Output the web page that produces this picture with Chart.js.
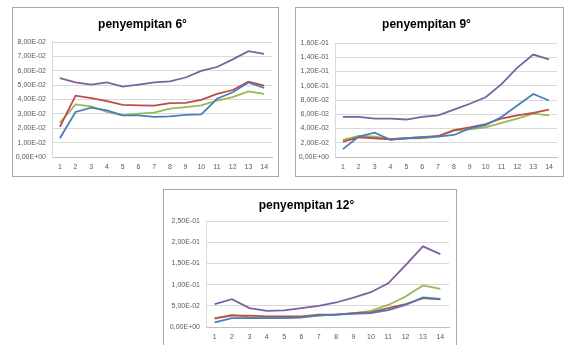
<!DOCTYPE html>
<html>
<head>
<meta charset="utf-8">
<script src="https://cdn.jsdelivr.net/npm/chart.js@4.4.1/dist/chart.umd.min.js"></script>
<style>
  html, body { margin:0; padding:0; background:#ffffff; width:568px; height:345px; overflow:hidden; }
  .box { position:absolute; border:1px solid #a8a8a8; box-sizing:border-box; background:#fff; }
  canvas { display:block; }
</style>
</head>
<body>
<div id="b1" class="box"><canvas id="c1"></canvas></div>
<div id="b2" class="box"><canvas id="c2"></canvas></div>
<div id="b3" class="box"><canvas id="c3"></canvas></div>
<script>
// ---------- DATA ----------
const categories = ["1","2","3","4","5","6","7","8","9","10","11","12","13","14"];

const titles = ["penyempitan 6°", "penyempitan 9°", "penyempitan 12°"];

// y axis ranges (tick labels generated from these)
const yMax  = [0.08, 0.16, 0.25];
const yStep = [0.01, 0.02, 0.05];

// penyempitan 6°
const blue6   = [0.0130,0.0313,0.0343,0.0325,0.0290,0.0290,0.0279,0.0283,0.0293,0.0297,0.0405,0.0450,0.0519,0.0480];
const red6    = [0.0210,0.0427,0.0410,0.0389,0.0363,0.0359,0.0357,0.0375,0.0377,0.0398,0.0439,0.0466,0.0523,0.0496];
const green6  = [0.0238,0.0366,0.0352,0.0313,0.0290,0.0302,0.0309,0.0336,0.0347,0.0359,0.0393,0.0416,0.0457,0.0439];
const purple6 = [0.0549,0.0519,0.0503,0.0519,0.0489,0.0503,0.0519,0.0526,0.0553,0.0599,0.0626,0.0679,0.0736,0.0718];

// penyempitan 9°
const blue9   = [0.0110,0.0286,0.0341,0.0240,0.0263,0.0277,0.0286,0.0309,0.0401,0.0447,0.0562,0.0724,0.0885,0.0793];
const red9    = [0.0217,0.0277,0.0263,0.0249,0.0263,0.0277,0.0295,0.0378,0.0415,0.0461,0.0540,0.0585,0.0618,0.0664];
const green9  = [0.0240,0.0295,0.0286,0.0249,0.0263,0.0263,0.0286,0.0369,0.0387,0.0415,0.0479,0.0540,0.0609,0.0585];
const purple9 = [0.0562,0.0562,0.0540,0.0540,0.0526,0.0562,0.0585,0.0664,0.0747,0.0839,0.1023,0.1254,0.1438,0.1369];

// penyempitan 12°
const blue12   = [0.0110,0.0210,0.0210,0.0210,0.0210,0.0227,0.0273,0.0290,0.0310,0.0328,0.0400,0.0520,0.0700,0.0660];
const red12    = [0.0210,0.0266,0.0266,0.0250,0.0250,0.0250,0.0290,0.0290,0.0328,0.0344,0.0445,0.0540,0.0680,0.0650];
const green12  = [0.0190,0.0290,0.0227,0.0210,0.0210,0.0227,0.0266,0.0290,0.0328,0.0380,0.0520,0.0720,0.0980,0.0900];
const purple12 = [0.0540,0.0656,0.0445,0.0380,0.0390,0.0445,0.0500,0.0578,0.0695,0.0820,0.1030,0.1460,0.1900,0.1720];

const seriesSets = [
  [blue6, red6, green6, purple6],
  [blue9, red9, green9, purple9],
  [blue12, red12, green12, purple12]
];

// ---------- LAYOUT / STYLE ----------
const colors = ["#4A7EBB", "#BE4B48", "#98B954", "#7D60A0"];
const layouts = [
  { box:{l:12,  t:7,   w:267, h:170}, plot:{l:52,  t:42,  r:272, b:157}, titleY:25 },
  { box:{l:295, t:7,   w:269, h:170}, plot:{l:335, t:43,  r:557, b:157}, titleY:25 },
  { box:{l:163, t:189, w:294, h:165}, plot:{l:206, t:221, r:449, b:327}, titleY:206 }
];

function fmtE(v) {
  if (Math.abs(v) < 1e-12) return "0,00E+00";
  let s = v.toExponential(2); // e.g. 8.00e-2
  let parts = s.split("e");
  let mant = parts[0].replace(".", ",");
  let ex = parseInt(parts[1], 10);
  let sign = ex < 0 ? "-" : "+";
  let ea = Math.abs(ex);
  return mant + "E" + sign + (ea < 10 ? "0" + ea : "" + ea);
}

const titleFontSize = 12;

function makeChart(i) {
  const L = layouts[i];
  const box = document.getElementById("b" + (i+1));
  box.style.left = L.box.l + "px";
  box.style.top = L.box.t + "px";
  box.style.width = L.box.w + "px";
  box.style.height = L.box.h + "px";
  const ox = L.box.l + 1, oy = L.box.t + 1;
  const cw = L.box.w - 2, ch = L.box.h - 2;
  const canvas = document.getElementById("c" + (i+1));
  canvas.width = cw; canvas.height = ch;
  canvas.style.width = cw + "px"; canvas.style.height = ch + "px";

  const yW = L.plot.l - ox;
  const padTop = L.plot.t - oy;
  const padRight = (ox + cw) - L.plot.r;
  const xH = (oy + ch) - L.plot.b;
  const lineH = titleFontSize * 1.2;
  const tTop = (L.titleY - oy) - lineH / 2;
  const tBottom = padTop - lineH - tTop;

  const names = ["Seri 1", "Seri 2", "Seri 3", "Seri 4"];
  const datasets = seriesSets[i].map((d, k) => ({
    label: names[k],
    data: d,
    borderColor: colors[k],
    backgroundColor: colors[k],
    borderWidth: 1.8,
    pointRadius: 0,
    pointHoverRadius: 0,
    tension: 0,
    fill: false
  }));

  new Chart(canvas, {
    type: "line",
    data: { labels: categories, datasets: datasets },
    options: {
      responsive: false,
      animation: false,
      events: [],
      layout: { padding: { left: 0, right: padRight, top: 0, bottom: 0 } },
      plugins: {
        legend: { display: false },
        tooltip: { enabled: false },
        title: {
          display: true,
          text: titles[i],
          color: "#000000",
          font: { family: "'Liberation Sans', Arial, sans-serif", size: titleFontSize, weight: "bold", lineHeight: 1.2 },
          padding: { top: tTop, bottom: tBottom }
        }
      },
      scales: {
        x: {
          offset: true,
          grid: { display: false, drawTicks: false },
          border: { display: true, color: "#bfbfbf", width: 1 },
          ticks: {
            color: "#595959",
            font: { family: "'Liberation Sans', Arial, sans-serif", size: 7 },
            padding: 6,
            maxRotation: 0,
            autoSkip: false
          },
          afterFit: (s) => { s.height = xH; }
        },
        y: {
          min: 0,
          max: yMax[i],
          grid: { color: "#d9d9d9", lineWidth: 1, drawTicks: false },
          border: { display: true, color: "#d9d9d9", width: 1 },
          ticks: {
            stepSize: yStep[i],
            color: "#595959",
            font: { family: "'Liberation Sans', Arial, sans-serif", size: 7 },
            padding: 6,
            callback: (v) => fmtE(v)
          },
          afterFit: (s) => { s.width = yW; }
        }
      }
    }
  });
}

for (let i = 0; i < 3; i++) makeChart(i);
</script>
</body>
</html>
